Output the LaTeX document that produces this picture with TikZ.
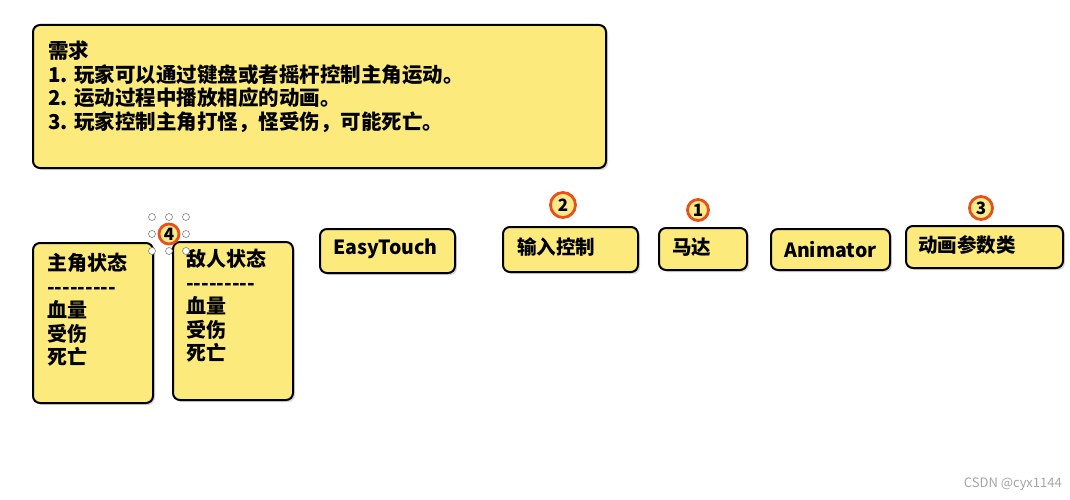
\documentclass[tikz,border=0pt]{standalone}
\usepackage{fontspec}
\setmainfont{Noto Sans CJK SC}
\usetikzlibrary{shadows}
\definecolor{stick}{HTML}{FCEB7C}
\definecolor{ringc}{HTML}{E8501A}
\definecolor{numfill}{HTML}{FCE98A}
\newcommand{\dashline}{-{}-{}-{}-{}-{}-{}-{}-{}-}
\tikzset{
  note/.style={draw=black,line width=2pt,rounded corners=7pt,fill=stick,drop shadow={shadow xshift=2pt,shadow yshift=-2pt,opacity=0.3}},
  lbl/.style={font=\bfseries\fontsize{19.5}{20}\selectfont,anchor=west,inner sep=0pt},
  num/.style={circle,draw=ringc,line width=2.8pt,fill=numfill,inner sep=0pt,font=\bfseries\fontsize{17}{17}\selectfont},
  handle/.style={circle,draw=gray,fill=white,line width=0.6pt,minimum size=7pt,inner sep=0pt}
}
\begin{document}
\begin{tikzpicture}[x=1pt,y=-1pt]
\useasboundingbox (0,0) rectangle (1070,500);
\fill[white] (0,0) rectangle (1070,500);
% requirement box
\draw[note] (33,25) rectangle (606,168);
\node[lbl,align=left,anchor=north west,font=\bfseries\fontsize{20.5}{23.5}\selectfont] (req) at (48,41) {需求\\1. 玩家可以通过键盘或者摇杆控制主角运动。\\2. 运动过程中播放相应的动画。\\3. 玩家控制主角打怪，怪受伤，可能死亡。};
% state boxes
\draw[note] (33,243) rectangle (153,403);
\node[lbl,align=left,anchor=north west,font=\bfseries\fontsize{20}{23.5}\selectfont] (hero) at (47,253) {主角状态\\\dashline\\血量\\受伤\\死亡};
\draw[note] (173,242) rectangle (293,400);
\node[lbl,align=left,anchor=north west,font=\bfseries\fontsize{20}{23.5}\selectfont] (enemy) at (186,249) {敌人状态\\\dashline\\血量\\受伤\\死亡};
% small boxes
\draw[note] (320,229) rectangle (455,273);
\node[lbl] (et) at (333,249) {EasyTouch};
\draw[note] (503,227) rectangle (638,272);
\node[lbl] (input) at (517,247) {输入控制};
\draw[note] (659,228) rectangle (747,270);
\node[lbl] (motor) at (672,247) {马达};
\draw[note] (771,229) rectangle (890,270);
\node[lbl] (anim) at (784,250) {Animator};
\draw[note] (906,226) rectangle (1063,268);
\node[lbl] (param) at (918,245) {动画参数类};
% numbers
\node[num,minimum size=25pt] (n2) at (563,205) {2};
\node[num,minimum size=21pt] (n1) at (698,210) {1};
\node[num,minimum size=23pt] (n3) at (981,208) {3};
\node[num,minimum size=20pt] (n4) at (169,234) {4};
\foreach \p/\q [count=\i] in {152/217,169/217,186/217,152/234,186/234,152/251,169/251,186/251}
  \node[handle] (h\i) at (\p,\q) {};
% watermark
\node[anchor=east,text=gray!70,font=\fontsize{13}{13}\selectfont,inner sep=0pt] (wm) at (1062,484) {CSDN @cyx1144};
\end{tikzpicture}
\end{document}
